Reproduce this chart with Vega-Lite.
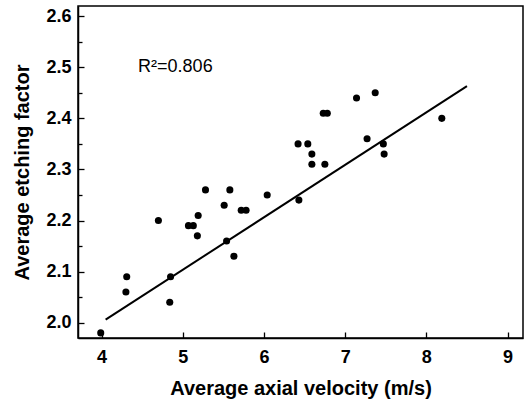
{
  "$schema": "https://vega.github.io/schema/vega-lite/v6.json",
  "width": 445,
  "height": 332,
  "autosize": "none",
  "padding": {"left": 78, "top": 6, "right": 2, "bottom": 67},
  "background": "white",
  "config": {
    "view": {"stroke": "black", "strokeWidth": 1.5},
    "font": "Liberation Sans",
    "axis": {
      "domainColor": "black",
      "domainWidth": 1.5,
      "tickColor": "black",
      "tickWidth": 1.3,
      "grid": false,
      "labelFont": "Liberation Sans",
      "labelFontWeight": "bold",
      "labelFontSize": 18,
      "labelColor": "black",
      "labelOverlap": false,
      "titleFont": "Liberation Sans",
      "titleFontWeight": "bold",
      "titleFontSize": 20,
      "titleColor": "black"
    }
  },
  "datasets": {
    "measured": [
      {"velocity": 3.99, "etching": 1.98},
      {"velocity": 4.31, "etching": 2.09},
      {"velocity": 4.30, "etching": 2.06},
      {"velocity": 4.70, "etching": 2.20},
      {"velocity": 4.85, "etching": 2.09},
      {"velocity": 4.84, "etching": 2.04},
      {"velocity": 5.07, "etching": 2.19},
      {"velocity": 5.13, "etching": 2.19},
      {"velocity": 5.19, "etching": 2.21},
      {"velocity": 5.18, "etching": 2.17},
      {"velocity": 5.28, "etching": 2.26},
      {"velocity": 5.51, "etching": 2.23},
      {"velocity": 5.54, "etching": 2.16},
      {"velocity": 5.58, "etching": 2.26},
      {"velocity": 5.63, "etching": 2.13},
      {"velocity": 5.72, "etching": 2.22},
      {"velocity": 5.78, "etching": 2.22},
      {"velocity": 6.04, "etching": 2.25},
      {"velocity": 6.42, "etching": 2.35},
      {"velocity": 6.43, "etching": 2.24},
      {"velocity": 6.54, "etching": 2.35},
      {"velocity": 6.59, "etching": 2.33},
      {"velocity": 6.59, "etching": 2.31},
      {"velocity": 6.73, "etching": 2.41},
      {"velocity": 6.78, "etching": 2.41},
      {"velocity": 6.75, "etching": 2.31},
      {"velocity": 7.14, "etching": 2.44},
      {"velocity": 7.27, "etching": 2.36},
      {"velocity": 7.37, "etching": 2.45},
      {"velocity": 7.47, "etching": 2.35},
      {"velocity": 7.48, "etching": 2.33},
      {"velocity": 8.19, "etching": 2.40}
    ],
    "fit": [
      {"velocity": 4.05, "etching": 2.006},
      {"velocity": 8.50, "etching": 2.463}
    ],
    "note": [
      {"velocity": 4.45, "etching": 2.5, "label": "R²=0.806"}
    ]
  },
  "encoding": {
    "x": {
      "field": "velocity", "type": "quantitative",
      "scale": {"domain": [3.71, 9.19], "nice": false, "zero": false},
      "axis": {
        "orient": "bottom",
        "title": "Average axial velocity (m/s)",
        "values": [4, 4.5, 5, 5.5, 6, 6.5, 7, 7.5, 8, 8.5, 9],
        "format": "d",
        "labelExpr": "datum.value % 1 === 0 ? datum.label : ''",
        "tickSize": {"condition": {"test": "datum.value % 1 === 0", "value": -6}, "value": -4},
        "labelPadding": 16,
        "titlePadding": 12
      }
    },
    "y": {
      "field": "etching", "type": "quantitative",
      "scale": {"domain": [1.97, 2.62], "nice": false, "zero": false},
      "axis": {
        "orient": "left",
        "title": "Average etching factor",
        "values": [2.0, 2.05, 2.1, 2.15, 2.2, 2.25, 2.3, 2.35, 2.4, 2.45, 2.5, 2.55, 2.6],
        "format": ".1f",
        "labelExpr": "abs(datum.value * 10 - round(datum.value * 10)) < 0.001 ? datum.label : ''",
        "tickSize": {"condition": {"test": "abs(datum.value * 10 - round(datum.value * 10)) < 0.001", "value": -6}, "value": -4},
        "labelPadding": 13,
        "titlePadding": 13
      }
    }
  },
  "layer": [
    {
      "data": {"name": "measured"},
      "mark": {"type": "point", "shape": "circle", "filled": true, "color": "black", "opacity": 1, "size": 50}
    },
    {
      "data": {"name": "fit"},
      "mark": {"type": "line", "color": "black", "strokeWidth": 2}
    },
    {
      "data": {"name": "note"},
      "mark": {"type": "text", "align": "left", "baseline": "middle", "fontSize": 18, "font": "Liberation Sans", "color": "black"},
      "encoding": {
        "text": {"field": "label"}
      }
    }
  ]
}
